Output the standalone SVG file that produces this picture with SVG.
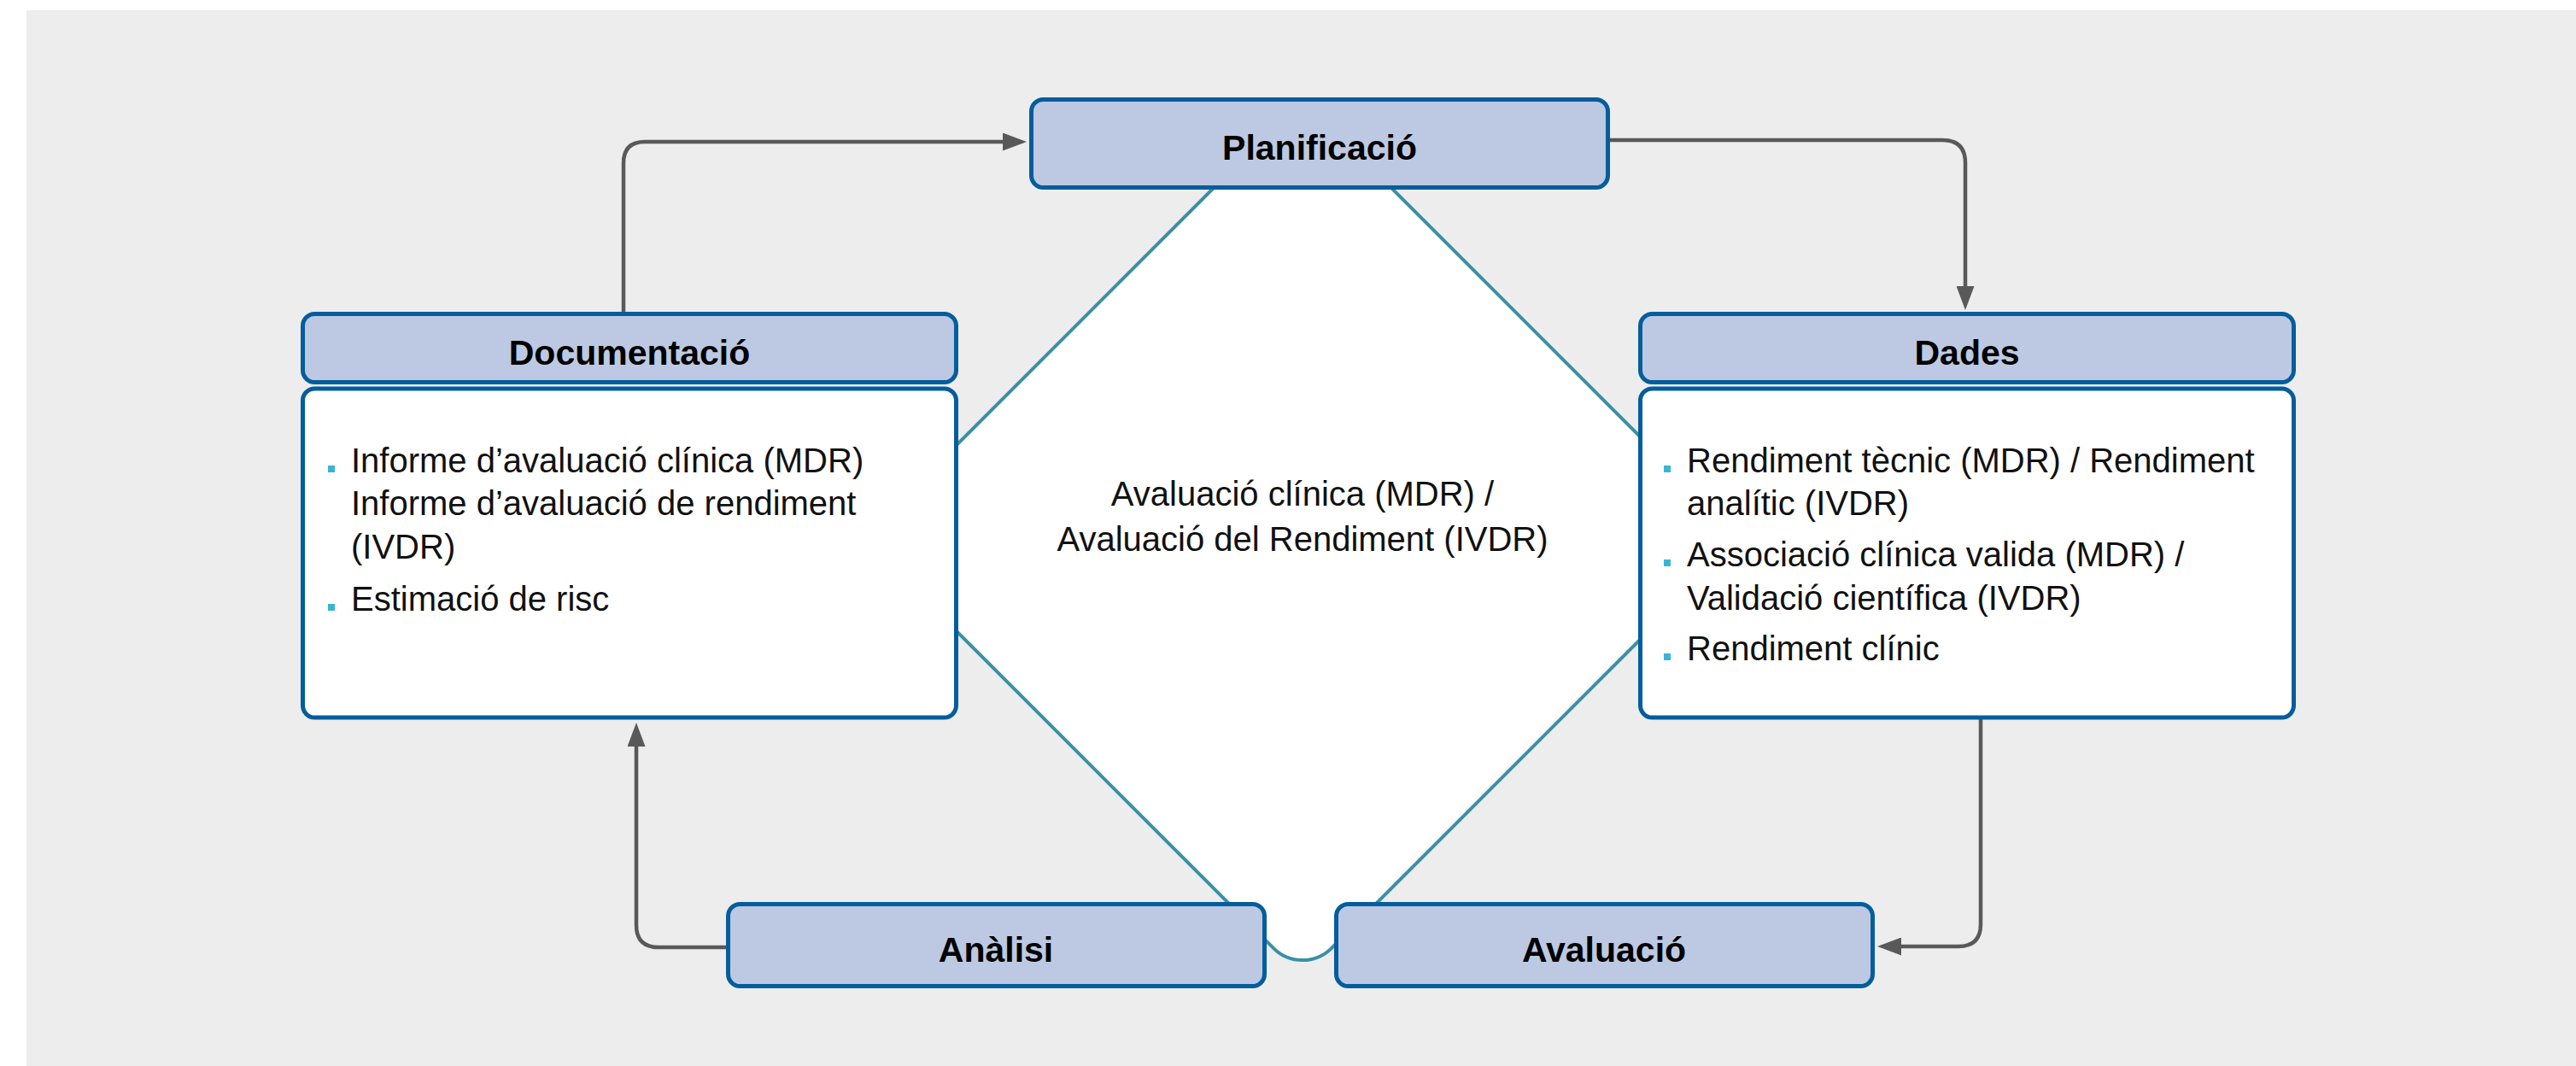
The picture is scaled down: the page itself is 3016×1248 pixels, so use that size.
<svg xmlns="http://www.w3.org/2000/svg" width="3016" height="1248" viewBox="0 0 3016 1248">
  <style>
    .title { font-family: "Liberation Sans", Arial, Helvetica, sans-serif; font-weight: bold; font-size: 41px; fill: #000; text-anchor: middle; }
    .body { font-family: "Liberation Sans", Arial, Helvetica, sans-serif; font-size: 40px; fill: #111; }
    .center { font-family: "Liberation Sans", Arial, Helvetica, sans-serif; font-size: 40px; fill: #111; text-anchor: middle; }
    .head { fill: #bdc9e2; stroke: #045d9c; stroke-width: 5; }
    .panel { fill: #ffffff; stroke: #045d9c; stroke-width: 5; }
    .bullet { fill: #3ab4d5; }
    .link { fill: none; stroke: #595959; stroke-width: 4.5; }
    .cycle { fill: #ffffff; stroke: #3b8fa5; stroke-width: 4; }
  </style>
  <defs>
    <marker id="arrow" markerUnits="userSpaceOnUse" markerWidth="28" markerHeight="21" refX="4" refY="10.5" orient="auto">
      <path d="M0,0 L28,10.5 L0,21 Z" fill="#595959"/>
    </marker>
  </defs>

  <!-- page background -->
  <rect x="0" y="0" width="3016" height="1248" fill="#ffffff"/>
  <rect x="31" y="12" width="2985" height="1236" fill="#ededed"/>

  <!-- central evaluation cycle -->
  <g id="cycle">
    <path class="cycle" d="M 1044.9 596.1 L 1491.1 149.9 A 48 48 0 0 1 1558.9 149.9 L 2005.1 596.1 A 48 48 0 0 1 2005.1 663.9 L 1558.9 1110.1 A 48 48 0 0 1 1491.1 1110.1 L 1044.9 663.9 A 48 48 0 0 1 1044.9 596.1 Z"/>
    <text class="center" x="1525" y="592">Avaluació clínica (MDR) /</text>
    <text class="center" x="1525" y="645">Avaluació del Rendiment (IVDR)</text>
  </g>

  <!-- connectors -->
  <g id="connectors">
    <path class="link" d="M 730 365 V 191 Q 730 166 755 166 H 1178" marker-end="url(#arrow)"/>
    <path class="link" d="M 1885 164 H 2274 Q 2301 164 2301 191 V 339" marker-end="url(#arrow)"/>
    <path class="link" d="M 2319 842 V 1082 Q 2319 1108 2293 1108 H 2222" marker-end="url(#arrow)"/>
    <path class="link" d="M 850 1109 H 771 Q 745 1109 745 1083 V 870" marker-end="url(#arrow)"/>
  </g>

  <!-- nodes -->
  <g id="planificacio">
    <rect class="head" x="1207.5" y="116.5" width="675" height="103" rx="14"/>
    <text class="title" x="1545" y="187">Planificació</text>
  </g>

  <g id="documentacio">
    <rect class="head" x="354.5" y="367.5" width="765" height="80" rx="14"/>
    <text class="title" x="737" y="427">Documentació</text>
    <rect class="panel" x="354.5" y="455" width="765" height="385" rx="14"/>
    <rect class="bullet" x="384" y="545" width="8" height="8"/>
    <rect class="bullet" x="384" y="707" width="8" height="8"/>
    <text class="body">
      <tspan x="411" y="553">Informe d’avaluació clínica (MDR)</tspan>
      <tspan x="411" y="603">Informe d’avaluació de rendiment</tspan>
      <tspan x="411" y="654">(IVDR)</tspan>
      <tspan x="411" y="715">Estimació de risc</tspan>
    </text>
  </g>

  <g id="dades">
    <rect class="head" x="1920.5" y="367.5" width="765" height="80" rx="14"/>
    <text class="title" x="2303" y="427">Dades</text>
    <rect class="panel" x="1920.5" y="455" width="765" height="385" rx="14"/>
    <rect class="bullet" x="1948" y="545" width="8" height="8"/>
    <rect class="bullet" x="1948" y="655" width="8" height="8"/>
    <rect class="bullet" x="1948" y="765" width="8" height="8"/>
    <text class="body">
      <tspan x="1975" y="553">Rendiment tècnic (MDR) / Rendiment</tspan>
      <tspan x="1975" y="603">analític (IVDR)</tspan>
      <tspan x="1975" y="663">Associació clínica valida (MDR) /</tspan>
      <tspan x="1975" y="714">Validació científica (IVDR)</tspan>
      <tspan x="1975" y="773">Rendiment clínic</tspan>
    </text>
  </g>

  <g id="analisi">
    <rect class="head" x="852.5" y="1058.5" width="628" height="96" rx="14"/>
    <text class="title" x="1166" y="1126">Anàlisi</text>
  </g>

  <g id="avaluacio">
    <rect class="head" x="1564.5" y="1058.5" width="628" height="96" rx="14"/>
    <text class="title" x="1878" y="1126">Avaluació</text>
  </g>
</svg>
